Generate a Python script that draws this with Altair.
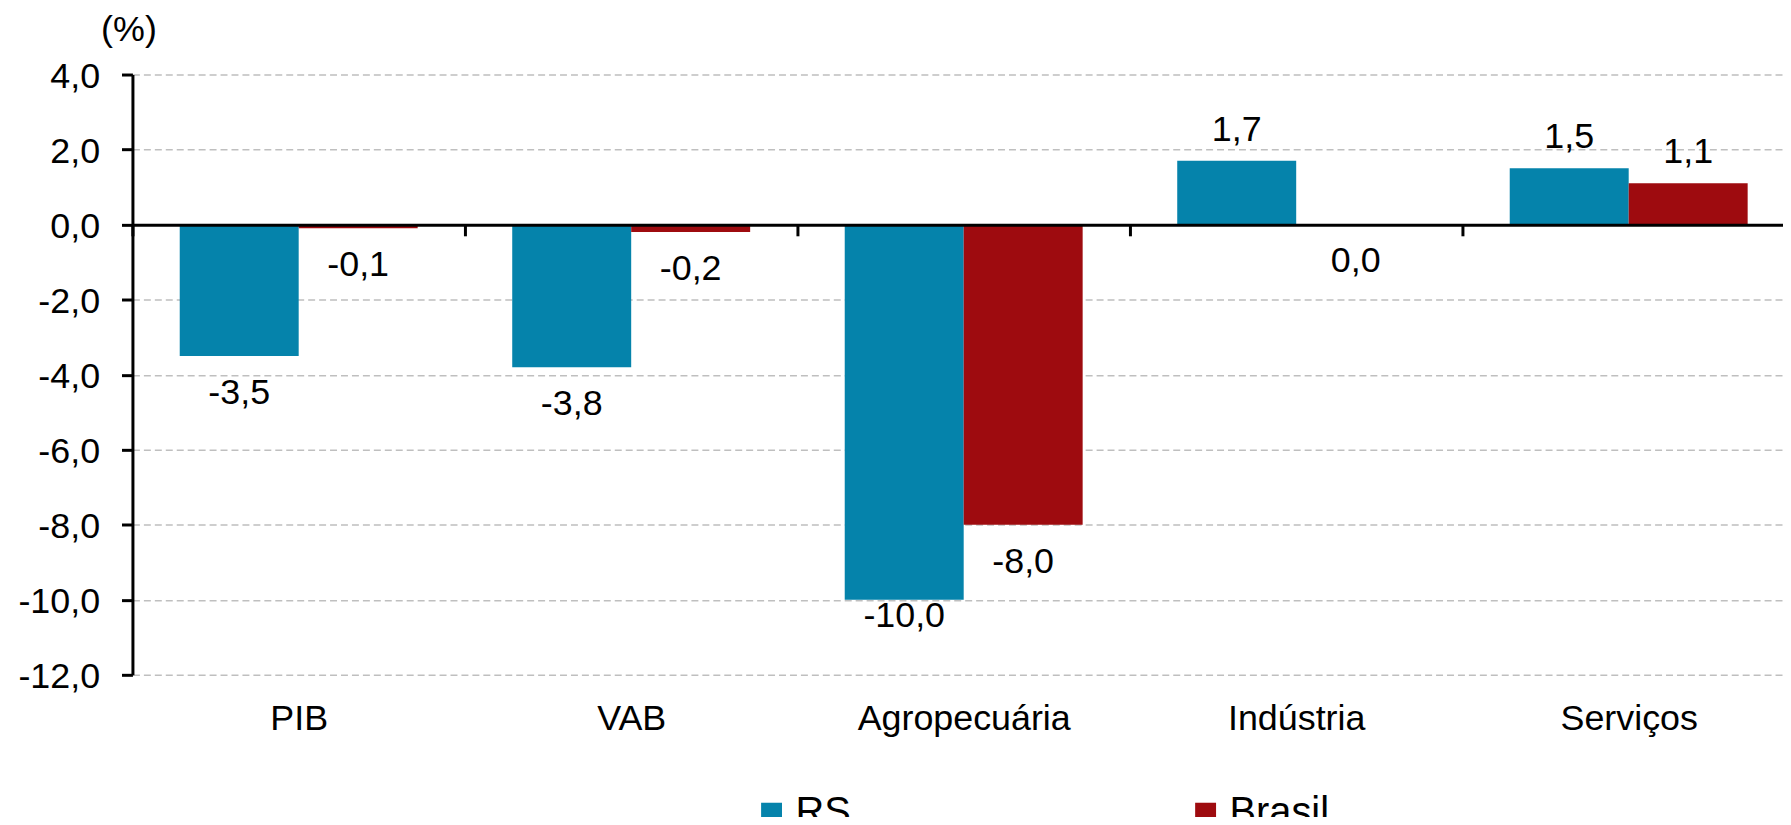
import altair as alt
import pandas as pd

categories = ["PIB", "VAB", "Agropecuária", "Indústria", "Serviços"]
series = ["RS", "Brasil"]
rs_values = [-3.5, -3.8, -10.0, 1.7, 1.5]
brasil_values = [-0.1, -0.2, -8.0, 0.0, 1.1]
y_ticks = [-12, -10, -8, -6, -4, -2, 0, 2, 4]
colors = ["#0583AB", "#9E0B0F"]

rows = []
for c, a, b in zip(categories, rs_values, brasil_values):
    rows.append({"categoria": c, "serie": "RS", "valor": a})
    rows.append({"categoria": c, "serie": "Brasil", "valor": b})
df = pd.DataFrame(rows)

FONT = "Liberation Sans"

x_enc = alt.X(
    "categoria:N",
    scale=alt.Scale(domain=categories, paddingInner=0, paddingOuter=0),
    axis=alt.Axis(
        title=None, orient="bottom", offset=-452,
        domain=True, domainColor="black", domainWidth=3,
        ticks=True, tickBand="extent", tickSize=11, tickWidth=3, tickColor="black",
        labelFontSize=36, labelFont=FONT, labelColor="black", labelPadding=468,
        labelAngle=0, labelLimit=600, grid=False, zindex=1,
    ),
)
xoff_enc = alt.XOffset("serie:N", scale=alt.Scale(domain=series, paddingInner=0, paddingOuter=0.3975))
y_scale = alt.Scale(domain=[-12, 4], nice=False, zero=False)
y_enc = alt.Y(
    "valor:Q",
    scale=y_scale,
    axis=alt.Axis(
        values=y_ticks,
        labelExpr="(datum.value < 0 ? '-' : '') + replace(format(abs(datum.value), '.1f'), '.', ',')",
        title="(%)", titleAngle=0, titleX=-4, titleY=-34, titleAlign="center",
        titleBaseline="alphabetic", titleFontSize=36, titleFontWeight="normal",
        titleColor="black", titleFont=FONT,
        labelFontSize=36, labelFont=FONT, labelColor="black", labelPadding=22, labelOffset=2,
        domainColor="black", domainWidth=3,
        tickColor="black", tickWidth=3, tickSize=11,
        grid=True, gridColor="#BFBFBF", gridDash=[7, 4], gridWidth=1.5,
    ),
)
color_enc = alt.Color(
    "serie:N",
    scale=alt.Scale(domain=series, range=colors),
    legend=alt.Legend(
        title=None, orient="none", legendX=622, legendY=722,
        direction="horizontal", symbolType="square", symbolSize=441,
        symbolStrokeWidth=0, labelFontSize=40, labelFont=FONT, labelColor="black",
        labelOffset=4, columnPadding=336, padding=0,
    ),
)

base = alt.Chart(df)
bars = base.mark_bar().encode(x=x_enc, xOffset=xoff_enc, y=y_enc, color=color_enc)

label_expr = "(datum.valor < 0 ? '-' : '') + replace(format(abs(datum.valor), '.1f'), '.', ',')"
pos_text = base.mark_text(baseline="alphabetic", dy=-20, fontSize=36, font=FONT, color="black").transform_calculate(
    rotulo=label_expr).transform_filter("datum.valor > 0").encode(
    x=x_enc, xOffset=xoff_enc, y=y_enc, text="rotulo:N")
# labels below negative bars, kept inside the lower part of the plot (as in the source chart)
neg_text = base.mark_text(baseline="alphabetic", dy=48, fontSize=36, font=FONT, color="black").transform_calculate(
    rotulo=label_expr, ancora="max(datum.valor, -9.45)").transform_filter("datum.valor <= 0").encode(
    x=x_enc, xOffset=xoff_enc, y=alt.Y("ancora:Q", scale=y_scale), text="rotulo:N")

chart = alt.layer(bars, pos_text, neg_text).properties(
    width=1670, height=603,
    autosize=alt.AutoSizeParams(type="none"),
    padding={"left": 125, "top": 65, "right": -12, "bottom": 141},
).configure(font=FONT).configure_view(stroke=None)

chart.save("out.html", embed_options={"renderer": "svg", "actions": False})
